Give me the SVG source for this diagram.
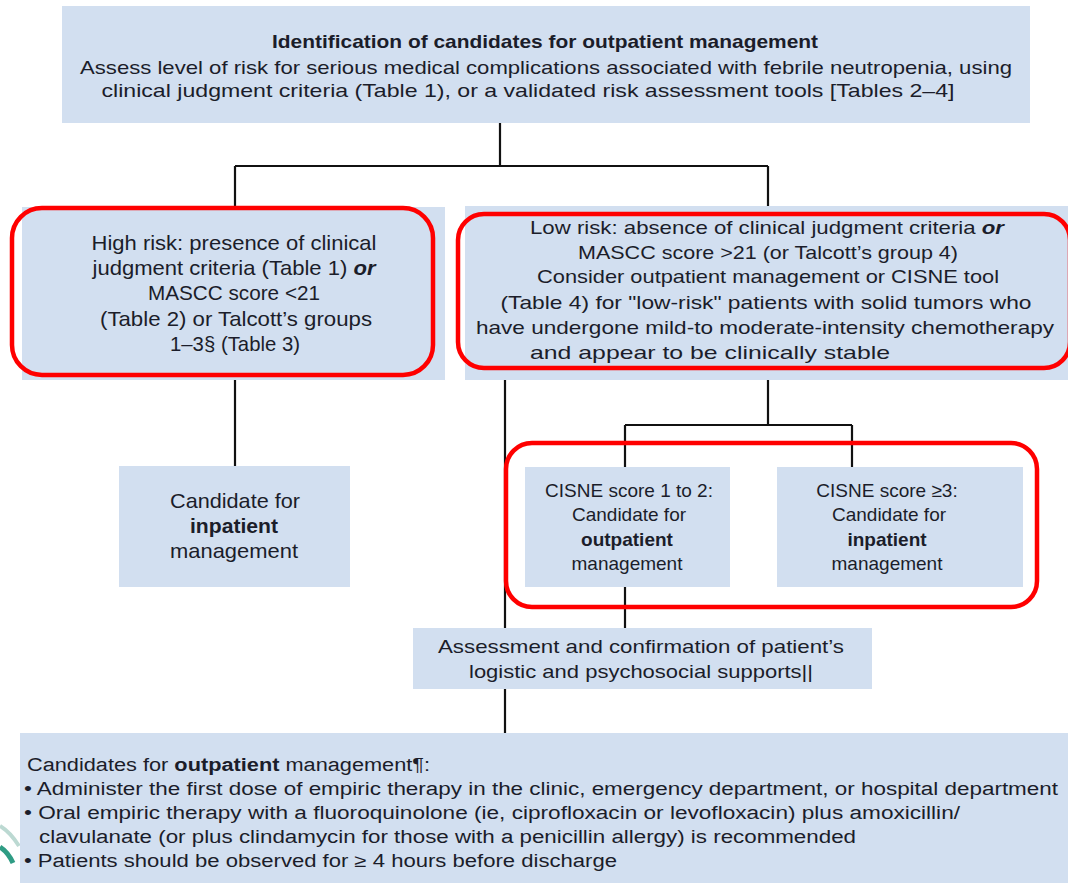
<svg xmlns="http://www.w3.org/2000/svg" width="1068" height="883" viewBox="0 0 1068 883">
  <style>
    .box { fill: #d2dff0; }
    .hl { fill: none; stroke: #ff0000; stroke-width: 4.5; }
    .wire { fill: none; stroke: #111; stroke-width: 2.2; }
    text { font-family: "Liberation Sans", Arial, sans-serif; fill: #1b1d2a; }
    .c { text-anchor: middle; font-size: 19px; }
    .l { font-size: 21px; }
    .s { font-size: 18px; }
    .b { font-weight: bold; }
  </style>
  <rect x="0" y="0" width="1068" height="883" fill="#ffffff"/>

  <!-- corner logo fragment -->
  <g id="logo">
    <path d="M0 826 Q10 832 19 846" fill="none" stroke="#bcd9d2" stroke-width="4"/>
    <path d="M0 847 Q8 852 13 863" fill="none" stroke="#2f9c84" stroke-width="5"/>
  </g>

  <!-- connectors -->
  <g id="connectors">
    <path class="wire" d="M500 123 V166 M235 166 H768 M235 166 V210 M768 166 V208"/>
    <path class="wire" d="M235 380 V466"/>
    <path class="wire" d="M505 380 V628 M505 689 V734"/>
    <path class="wire" d="M768 380 V425 M625 425 H852 M625 425 V467 M852 425 V467"/>
    <path class="wire" d="M625 587 V628"/>
  </g>

  <g id="top">
    <rect class="box" x="62" y="6" width="968" height="117"/>
    <text class="c b" x="545" y="48" font-size="17" textLength="546" lengthAdjust="spacingAndGlyphs">Identification of candidates for outpatient management</text>
    <text class="c" x="546" y="74" textLength="932" lengthAdjust="spacingAndGlyphs">Assess level of risk for serious medical complications associated with febrile neutropenia, using</text>
    <text class="c" x="528" y="97" textLength="853" lengthAdjust="spacingAndGlyphs">clinical judgment criteria (Table 1), or a validated risk assessment tools [Tables 2–4]</text>
  </g>

  <g id="high-risk">
    <rect class="box" x="22" y="207" width="423" height="173"/>
    <rect class="hl" x="12" y="208" width="421" height="167" rx="30"/>
    <text class="c l" x="234" y="250" textLength="285" lengthAdjust="spacingAndGlyphs">High risk: presence of clinical</text>
    <text class="c l" x="234" y="275" textLength="283" lengthAdjust="spacingAndGlyphs">judgment criteria (Table 1) <tspan font-style="italic" font-weight="bold">or</tspan></text>
    <text class="c l" x="234" y="300" textLength="172" lengthAdjust="spacingAndGlyphs">MASCC score &lt;21</text>
    <text class="c l" x="236" y="326" textLength="272" lengthAdjust="spacingAndGlyphs">(Table 2) or Talcott’s groups</text>
    <text class="c l" x="235" y="351" textLength="130" lengthAdjust="spacingAndGlyphs">1–3§ (Table 3)</text>
  </g>

  <g id="low-risk">
    <rect class="box" x="465" y="206" width="603" height="174"/>
    <rect class="hl" x="458" y="214" width="612" height="154" rx="26"/>
    <text class="c" x="767" y="234" textLength="474" lengthAdjust="spacingAndGlyphs">Low risk: absence of clinical judgment criteria <tspan font-style="italic" font-weight="bold">or</tspan></text>
    <text class="c" x="768" y="259" textLength="380" lengthAdjust="spacingAndGlyphs">MASCC score &gt;21 (or Talcott’s group 4)</text>
    <text class="c" x="768" y="283" textLength="462" lengthAdjust="spacingAndGlyphs">Consider outpatient management or CISNE tool</text>
    <text class="c" x="766" y="309" textLength="531" lengthAdjust="spacingAndGlyphs">(Table 4) for "low-risk" patients with solid tumors who</text>
    <text class="c" x="765" y="334" textLength="578" lengthAdjust="spacingAndGlyphs">have undergone mild-to moderate-intensity chemotherapy</text>
    <text class="c" x="710" y="359" textLength="360" lengthAdjust="spacingAndGlyphs">and appear to be clinically stable</text>
  </g>

  <g id="inpatient">
    <rect class="box" x="119" y="466" width="231" height="121"/>
    <text class="c l" x="235" y="508" textLength="130" lengthAdjust="spacingAndGlyphs">Candidate for</text>
    <text class="c l b" x="234" y="533" textLength="88" lengthAdjust="spacingAndGlyphs">inpatient</text>
    <text class="c l" x="234" y="558" textLength="128" lengthAdjust="spacingAndGlyphs">management</text>
  </g>

  <g id="cisne">
    <rect class="hl" x="506" y="443" width="531" height="164" rx="26"/>
  </g>

  <g id="cisne-low">
    <rect class="box" x="525" y="467" width="205" height="120"/>
    <text class="c" x="629" y="497">CISNE score 1 to 2:</text>
    <text class="c" x="629" y="521">Candidate for</text>
    <text class="c b" x="627" y="546">outpatient</text>
    <text class="c" x="627" y="570">management</text>
  </g>

  <g id="cisne-high">
    <rect class="box" x="777" y="467" width="246" height="120"/>
    <text class="c" x="887" y="497">CISNE score ≥3:</text>
    <text class="c" x="889" y="521">Candidate for</text>
    <text class="c b" x="887" y="546">inpatient</text>
    <text class="c" x="887" y="570">management</text>
  </g>

  <g id="assessment">
    <rect class="box" x="413" y="628" width="459" height="61"/>
    <text class="c" x="641" y="653" textLength="406" lengthAdjust="spacingAndGlyphs">Assessment and confirmation of patient’s</text>
    <text class="c" x="641" y="678" textLength="344" lengthAdjust="spacingAndGlyphs">logistic and psychosocial supports||</text>
  </g>

  <g id="outpatient-plan">
    <rect class="box" x="20" y="733" width="1048" height="150"/>
    <text class="s" x="27" y="771" textLength="403" lengthAdjust="spacingAndGlyphs">Candidates for <tspan class="b">outpatient</tspan> management¶:</text>
    <text class="s" x="24" y="795" textLength="1034" lengthAdjust="spacingAndGlyphs">• Administer the first dose of empiric therapy in the clinic, emergency department, or hospital department</text>
    <text class="s" x="24" y="819" textLength="936" lengthAdjust="spacingAndGlyphs">• Oral empiric therapy with a fluoroquinolone (ie, ciprofloxacin or levofloxacin) plus amoxicillin/</text>
    <text class="s" x="39" y="843" textLength="817" lengthAdjust="spacingAndGlyphs">clavulanate (or plus clindamycin for those with a penicillin allergy) is recommended</text>
    <text class="s" x="24" y="867" textLength="593" lengthAdjust="spacingAndGlyphs">• Patients should be observed for ≥ 4 hours before discharge</text>
  </g>
</svg>
